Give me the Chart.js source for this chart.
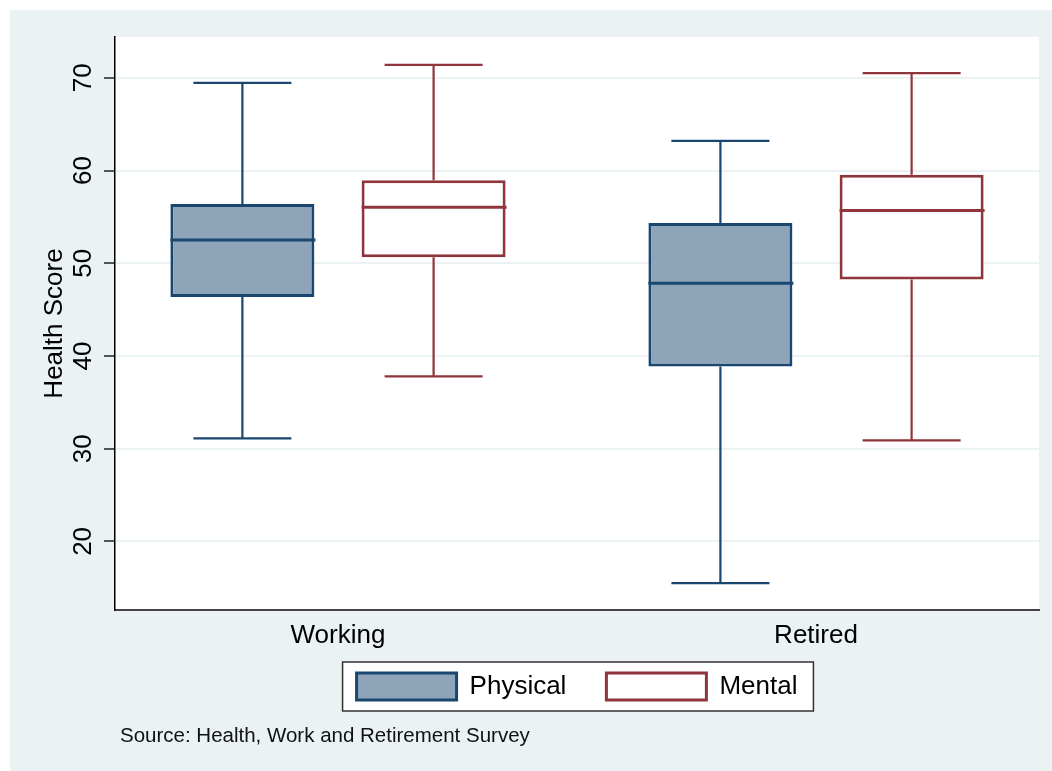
<!DOCTYPE html>
<html>
<head>
<meta charset="utf-8">
<script src="https://cdn.jsdelivr.net/npm/chart.js@4.4.1/dist/chart.umd.min.js"></script>
<style>
  html, body { margin: 0; padding: 0; background: #ffffff; overflow: hidden; }
  canvas { display: block; }
</style>
</head>
<body>
<canvas id="chart" width="1052" height="771"></canvas>
<script>
// Categories, tick values and the five-number summaries of each series
const categories = ['Working', 'Retired'];
const yTicks = [20, 30, 40, 50, 60, 70];
const seriesNames = ['Physical', 'Mental'];

const physicalMin    = [31.1, 15.5];
const physicalQ1     = [46.35, 38.85];
const physicalMedian = [52.5, 47.85];
const physicalQ3     = [56.4, 54.35];
const physicalMax    = [69.45, 63.2];

const mentalMin    = [37.8, 30.9];
const mentalQ1     = [50.65, 48.25];
const mentalMedian = [56.05, 55.7];
const mentalQ3     = [58.95, 59.55];
const mentalMax    = [71.4, 70.5];

const axisTitle = 'Health Score';
const sourceNote = 'Source: Health, Work and Retirement Survey';

// Styling
const FONT = "'Liberation Sans', Arial, Helvetica, sans-serif";
const REGION_BG = '#eaf2f3';
const PHYS_LINE = '#1a476f';
const PHYS_FILL = '#8ea4b8';
const MENT_LINE = '#90353b';
const MENT_FILL = '#ffffff';
const SHIFT = 0.2;        // box offset from the category centre (category units)
const BOX_PX = 144;       // box width in pixels
const CAP_HALF = 49;      // half width of whisker caps in pixels
const LEGEND_LIFT = 17;   // pulls the legend up towards the axis labels

const series = [
  { label: seriesNames[0], min: physicalMin, q1: physicalQ1, med: physicalMedian, q3: physicalQ3, max: physicalMax,
    line: PHYS_LINE, fill: PHYS_FILL, shift: -SHIFT },
  { label: seriesNames[1], min: mentalMin, q1: mentalQ1, med: mentalMedian, q3: mentalQ3, max: mentalMax,
    line: MENT_LINE, fill: MENT_FILL, shift: SHIFT }
];

// Boxes are floating bars spanning Q1..Q3
const datasets = series.map(s => ({
  label: s.label,
  data: categories.map((c, i) => ({ x: i + 1 + s.shift, y: [s.q1[i], s.q3[i]] })),
  backgroundColor: s.fill,
  borderColor: s.line,
  borderWidth: 3,
  borderSkipped: false,
  barThickness: BOX_PX,
  grouped: false,
  inflateAmount: 0
}));

// Page background, plot region, legend frame and source note
const backdrop = {
  id: 'backdrop',
  afterLayout(chart) {
    const lg = chart.legend;
    if (lg) { lg.top -= LEGEND_LIFT; lg.bottom -= LEGEND_LIFT; }
  },
  beforeDraw(chart) {
    const { ctx, width, height, chartArea: a } = chart;
    ctx.save();
    ctx.fillStyle = '#ffffff';
    ctx.fillRect(0, 0, width, height);
    ctx.fillStyle = REGION_BG;
    ctx.fillRect(10, 10, width - 10, height - 10);
    ctx.fillStyle = '#ffffff';
    ctx.fillRect(a.left, a.top, a.right - a.left, a.bottom - a.top);

    const boxes = chart.legend && chart.legend.legendHitBoxes;
    if (boxes && boxes.length) {
      const l = Math.min(...boxes.map(b => b.left)) - 14;
      const r = Math.max(...boxes.map(b => b.left + b.width)) + 16;
      const t = Math.min(...boxes.map(b => b.top)) - 11;
      const btm = Math.max(...boxes.map(b => b.top + b.height)) + 11;
      ctx.fillStyle = '#ffffff';
      ctx.fillRect(l, t, r - l, btm - t);
      ctx.strokeStyle = '#333333';
      ctx.lineWidth = 1.5;
      ctx.strokeRect(l, t, r - l, btm - t);
    }
    ctx.restore();
  },
  afterDraw(chart) {
    const { ctx } = chart;
    ctx.save();
    ctx.fillStyle = '#111111';
    ctx.font = '20.5px ' + FONT;
    ctx.textAlign = 'left';
    ctx.textBaseline = 'alphabetic';
    ctx.fillText(sourceNote, 120, 742);
    ctx.restore();
  }
};

// Whiskers, caps and medians drawn through the chart scales
const whiskers = {
  id: 'whiskers',
  afterDatasetsDraw(chart) {
    const { ctx, scales: { x, y } } = chart;
    ctx.save();
    ctx.lineCap = 'butt';
    series.forEach(s => {
      ctx.strokeStyle = s.line;
      categories.forEach((c, i) => {
        const cx = x.getPixelForValue(i + 1 + s.shift);
        const pMin = y.getPixelForValue(s.min[i]);
        const pQ1 = y.getPixelForValue(s.q1[i]);
        const pMed = y.getPixelForValue(s.med[i]);
        const pQ3 = y.getPixelForValue(s.q3[i]);
        const pMax = y.getPixelForValue(s.max[i]);

        ctx.lineWidth = 2.2;
        ctx.beginPath();
        ctx.moveTo(cx, pQ3); ctx.lineTo(cx, pMax);
        ctx.moveTo(cx, pQ1); ctx.lineTo(cx, pMin);
        ctx.moveTo(cx - CAP_HALF, pMax); ctx.lineTo(cx + CAP_HALF, pMax);
        ctx.moveTo(cx - CAP_HALF, pMin); ctx.lineTo(cx + CAP_HALF, pMin);
        ctx.stroke();

        ctx.lineWidth = 3;
        ctx.beginPath();
        ctx.moveTo(cx - BOX_PX / 2, pMed); ctx.lineTo(cx + BOX_PX / 2 + 1, pMed);
        ctx.stroke();
      });
    });
    ctx.restore();
  }
};

new Chart(document.getElementById('chart'), {
  type: 'bar',
  data: { datasets },
  plugins: [backdrop, whiskers],
  options: {
    responsive: false,
    animation: false,
    devicePixelRatio: 1,
    layout: { padding: { left: 0, right: 13, top: 37, bottom: 44 } },
    plugins: {
      tooltip: { enabled: false },
      legend: {
        position: 'bottom',
        fullSize: false,
        labels: {
          boxWidth: 100,
          boxHeight: 27,
          padding: 40,
          color: '#000000',
          font: { family: FONT, size: 26 }
        }
      }
    },
    scales: {
      x: {
        type: 'linear',
        bounds: 'data',
        min: 0.5335,
        max: 2.4665,
        offset: false,
        afterBuildTicks: sc => { sc.ticks = categories.map((c, i) => ({ value: i + 1 })); },
        afterFit: sc => { sc.height = 40; },
        ticks: {
          callback: v => categories[Math.round(v) - 1],
          autoSkip: false,
          minRotation: 0,
          maxRotation: 0,
          padding: 10,
          color: '#000000',
          font: { family: FONT, size: 26 }
        },
        grid: { display: false, drawTicks: false, offset: false },
        border: { display: true, color: '#444444', width: 2 }
      },
      y: {
        type: 'linear',
        bounds: 'data',
        beginAtZero: false,
        min: 12.6,
        max: 74.4,
        afterBuildTicks: sc => { sc.ticks = yTicks.map(v => ({ value: v })); },
        afterFit: sc => { sc.width = 115; },
        ticks: {
          minRotation: 90,
          maxRotation: 90,
          crossAlign: 'center',
          padding: 6,
          color: '#000000',
          font: { family: FONT, size: 26 }
        },
        grid: { color: REGION_BG, lineWidth: 2, tickLength: 11, tickColor: '#222222', tickWidth: 1.5 },
        border: { display: true, color: '#000000', width: 1.5 },
        title: {
          display: true,
          text: axisTitle,
          color: '#000000',
          font: { family: FONT, size: 26 },
          padding: { top: 39, bottom: 0 }
        }
      }
    }
  }
});
</script>
</body>
</html>
